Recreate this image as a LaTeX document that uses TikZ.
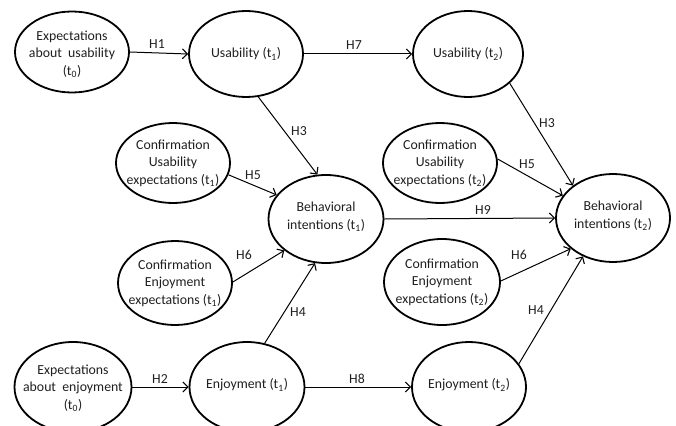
\documentclass[tikz,border=0pt]{standalone}
\usepackage{fontspec}
\setmainfont{Carlito}
\usetikzlibrary{shapes.geometric,arrows.meta}
\tikzset{
  ell/.style={draw=black, line width=1.8pt, ellipse, inner sep=0pt, minimum width=114pt, minimum height=86pt},
  txt/.style={align=center, text=black!88, font=\fontsize{13.8}{17.5}\selectfont, inner sep=0pt},
  lab/.style={text=black!88, font=\fontsize{13.8}{16}\selectfont, inner sep=0pt},
  arr/.style={draw=black, line width=1pt, -{Straight Barb[length=5pt,width=10pt,line width=1.1pt]}}
}
\newcommand{\tsub}[1]{\textsubscript{#1}}
\begin{document}
\begin{tikzpicture}[x=1pt,y=-1pt]
\useasboundingbox (0,0) rectangle (676,425);
% ellipses
\node[ell, minimum width=114pt, minimum height=81pt] (eu) at (72,52) {};
\node[ell, minimum height=86pt] (u1) at (246,54) {};
\node[ell, minimum width=110pt, minimum height=86pt] (u2) at (468,54) {};
\node[ell, minimum height=80pt] (cu1) at (173,163) {};
\node[ell, minimum width=115pt, minimum height=88pt] (bi1) at (326,219) {};
\node[ell, minimum height=80pt] (cu2) at (440,163) {};
\node[ell, minimum width=114pt, minimum height=88pt] (bi2) at (613,218) {};
\node[ell, minimum height=84pt] (ce1) at (175,283) {};
\node[ell, minimum width=116pt, minimum height=86pt] (ce2) at (442,282) {};
\node[ell, minimum width=117pt, minimum height=90pt] (ee) at (73,387) {};
\node[ell, minimum width=115pt, minimum height=90pt] (e1) at (247,387) {};
\node[ell, minimum width=114pt, minimum height=90pt] (e2) at (469,387) {};
% texts
\node[txt] (teu) at ([yshift=-2pt]eu) {Expectations\\about\ \ usability\\(t\tsub{0})};
\node[txt] (tu1) at (u1) {Usability (t\tsub{1})};
\node[txt] (tu2) at (u2) {Usability (t\tsub{2})};
\node[txt] (tcu1) at (cu1) {Confirmation\\Usability\\expectations (t\tsub{1})};
\node[txt] (tbi1) at ([yshift=2pt]bi1) {Behavioral\\intentions (t\tsub{1})};
\node[txt] (tcu2) at (cu2) {Confirmation\\Usability\\expectations (t\tsub{2})};
\node[txt] (tbi2) at ([yshift=2pt]bi2) {Behavioral\\intentions (t\tsub{2})};
\node[txt] (tce1) at (ce1) {Confirmation\\Enjoyment\\expectations (t\tsub{1})};
\node[txt] (tce2) at (ce2) {Confirmation\\Enjoyment\\expectations (t\tsub{2})};
\node[txt] (tee) at ([yshift=-1pt]ee) {Expectations\\about\ \ enjoyment\\(t\tsub{0})};
\node[txt] (te1) at ([yshift=2pt]e1) {Enjoyment (t\tsub{1})};
\node[txt] (te2) at ([yshift=2pt]e2) {Enjoyment (t\tsub{2})};
% connectors
\draw[arr] (eu.east) -- (u1.west);
\draw[arr] (u1.east) -- (u2.west);
\draw[arr] (ee.east) -- (e1.west);
\draw[arr] (e1.east) -- (e2.west);
\draw[arr] (bi1.east) -- (bi2.west);
\draw[arr] (u1.-74.7) -- (bi1.101.6);
\draw[arr] (cu1.-12.3) -- (bi1.154.9);
\draw[arr] (ce1.1) -- (bi1.217.3);
\draw[arr] (e1.68.2) -- (bi1.256);
\draw[arr] (u2.-35.8) -- (bi2.141.2);
\draw[arr] (cu2.4) -- (bi2.156.7);
\draw[arr] (ce2.1) -- (bi2.216.2);
\draw[arr] (e2.25.2) -- (bi2.232.4);
% labels
\node[lab] (h1) at (157,44) {H1};
\node[lab] (h7) at (354,45) {H7};
\node[lab] (h2) at (160,379) {H2};
\node[lab] (h8) at (357,379) {H8};
\node[lab] (h9) at (483,210) {H9};
\node[lab] (h3a) at (299,131) {H3};
\node[lab] (h5a) at (253,175) {H5};
\node[lab] (h6a) at (244,255) {H6};
\node[lab] (h4a) at (298,312) {H4};
\node[lab] (h3b) at (547,123) {H3};
\node[lab] (h5b) at (527,164) {H5};
\node[lab] (h6b) at (519,255) {H6};
\node[lab] (h4b) at (536,310) {H4};
\end{tikzpicture}
\end{document}
